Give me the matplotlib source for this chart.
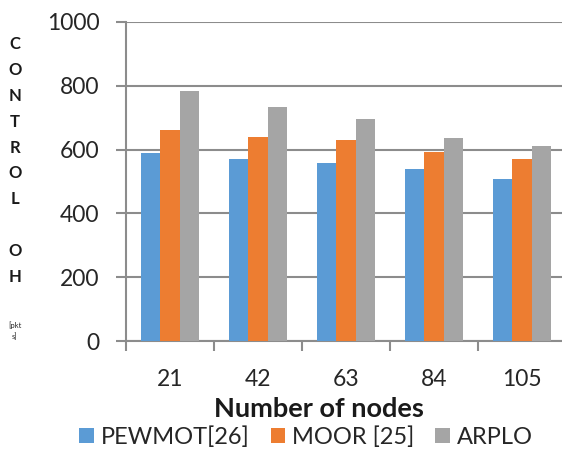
import numpy as np
import matplotlib.pyplot as plt
from matplotlib.ticker import FixedLocator, NullFormatter

plt.rcParams['font.family'] = ['Lato', 'DejaVu Sans']

nodes = ['21', '42', '63', '84', '105']
pewmot = [590, 570, 558, 538, 509]
moor = [660, 640, 629, 591, 570]
arplo = [784, 735, 695, 636, 611]

series = [('PEWMOT[26]', pewmot, '#5B9BD5'),
          ('MOOR [25]', moor, '#ED7D31'),
          ('ARPLO', arplo, '#A5A5A5')]

fig = plt.figure(figsize=(5.62, 4.5), dpi=100)
ax = fig.add_axes([126 / 562, 1 - 341 / 450, 440 / 562, 319 / 450])

x = np.arange(len(nodes))
w = 0.22
for i, (name, vals, col) in enumerate(series):
    ax.bar(x + (i - 1) * w, vals, w, color=col, label=name, zorder=3)

ax.set_xlim(-0.5, len(nodes) - 0.5)
ax.set_ylim(0, 1000)
ax.set_yticks(range(0, 1001, 200))
ax.yaxis.grid(color='#8c8c8c', linewidth=1.5, zorder=0)

# category boundaries as major ticks, labels on minor ticks
ax.xaxis.set_major_locator(FixedLocator(np.arange(-0.5, len(nodes), 1.0)))
ax.xaxis.set_major_formatter(NullFormatter())
ax.xaxis.set_minor_locator(FixedLocator(x))
ax.set_xticklabels(nodes, minor=True)
ax.tick_params(axis='x', which='major', length=7, width=1.5, color='#8c8c8c')
ax.tick_params(axis='x', which='minor', length=0, pad=20, labelsize=16.5, labelcolor='#262626')
ax.tick_params(axis='y', length=7, width=1.5, color='#8c8c8c', pad=12,
               labelsize=16.5, labelcolor='#262626')

for s in ['top', 'right']:
    ax.spines[s].set_visible(False)
for s in ['left', 'bottom']:
    ax.spines[s].set_color('#8c8c8c')
    ax.spines[s].set_linewidth(1.5)

ax.set_xlabel('Number of nodes', fontsize=19.5, fontweight='bold', color='#1a1a1a')
ax.xaxis.set_label_coords(0.439, -0.175)

fig.text(15 / 562, 1 - 36 / 450, 'C\nO\nN\nT\nR\nO\nL\n\nO\nH', ha='center', va='top',
         fontsize=12, fontweight='bold', linespacing=1.76, color='#1a1a1a')
fig.text(15 / 562, 1 - 331 / 450, '[pkt\ns]', ha='center', va='center', fontsize=5.5,
         linespacing=1.6, color='#262626')

ax.legend(loc='center', bbox_to_anchor=(306 / 562, 1 - 437 / 450), bbox_transform=fig.transFigure,
          ncol=3, frameon=False, fontsize=17, handlelength=0.6, handleheight=0.6,
          handletextpad=0.3, columnspacing=0.9, labelcolor='#262626')

fig.savefig('out.png', dpi=100)
